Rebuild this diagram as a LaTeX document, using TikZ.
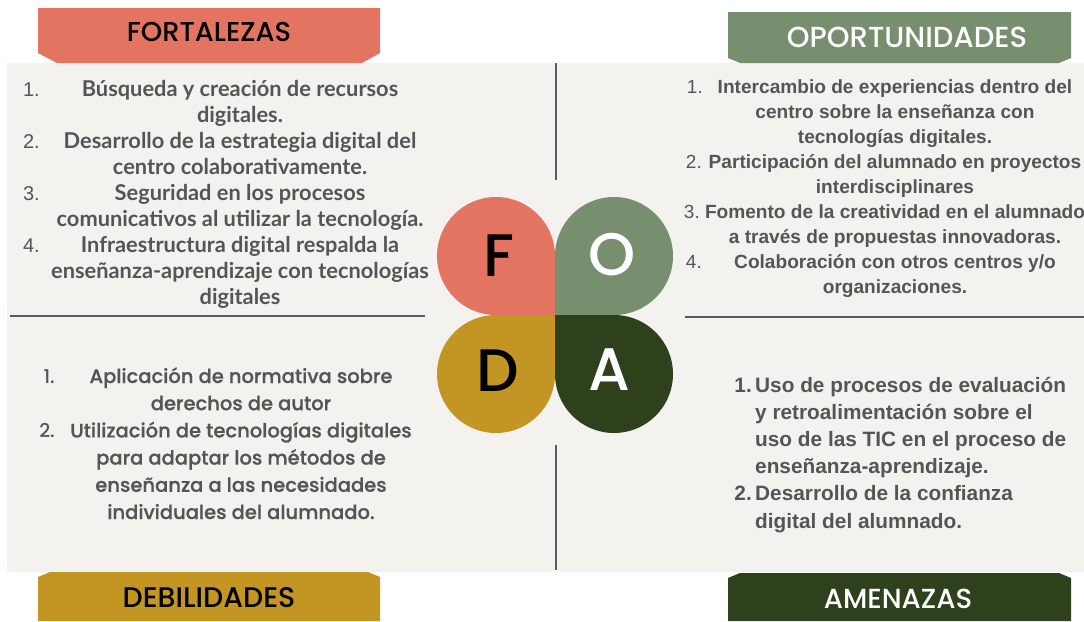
\documentclass[tikz,border=0pt]{standalone}
\usepackage{fontspec}
\setmainfont{Lato}
\newfontfamily\latofont{Lato}
\newfontfamily\libsans{Liberation Sans}
\newfontfamily\popmed{Poppins Medium}
\newfontfamily\popbl{Poppins Medium}[FakeBold=0.6]
\definecolor{fcol}{HTML}{E27461}
\definecolor{ocol}{HTML}{778F6E}
\definecolor{dcol}{HTML}{C39522}
\definecolor{acol}{HTML}{2F401D}
\definecolor{panel}{HTML}{F3F2EF}
\definecolor{txt}{HTML}{555555}
\definecolor{rulecol}{HTML}{5A5A5A}
\tikzset{
  hdr/.style={inner sep=0pt, font=\popmed\fontsize{28}{28}\selectfont},
  letter/.style={inner sep=0pt, font=\popmed\fontsize{60}{60}\selectfont},
  tl/.style={anchor=base, inner sep=0pt, text=txt, font=\latofont\bfseries\fontsize{21.8}{21.8}\selectfont},
  tlnum/.style={anchor=base east, inner sep=0pt, text=txt, font=\libsans\fontsize{20}{20}\selectfont},
  tr/.style={anchor=base, inner sep=0pt, text=txt, font=\libsans\bfseries\fontsize{19.1}{19.1}\selectfont},
  trnum/.style={anchor=base east, inner sep=0pt, text=txt, font=\libsans\fontsize{19}{19}\selectfont},
  bl/.style={anchor=base, inner sep=0pt, text=txt, font=\popbl\fontsize{19.5}{19.5}\selectfont},
  blnum/.style={anchor=base east, inner sep=0pt, text=txt, font=\popmed\fontsize{19}{19}\selectfont},
  br/.style={anchor=base west, inner sep=0pt, text=txt, font=\libsans\bfseries\fontsize{20.8}{20.8}\selectfont},
  brnum/.style={anchor=base east, inner sep=0pt, text=txt, font=\libsans\bfseries\fontsize{20.8}{20.8}\selectfont},
  sep/.style={draw=rulecol, line width=2pt},
}
\begin{document}
\begin{tikzpicture}[x=1pt,y=-1pt]
\useasboundingbox[fill=white] (0,0) rectangle (1084,621);
% panel
\fill[panel] (7,63) rectangle (1084,572);
% headers
\fill[fcol] (38,8) -- (380,8) -- (380,53) -- (362,63) -- (57,63) -- (38,53) -- cycle;
\fill[ocol] (728,12) -- (1071,12) -- (1071,58) -- (1059,63) -- (740,63) -- (728,58) -- cycle;
\fill[dcol] (38,577) -- (50,572) -- (368,572) -- (380,577) -- (380,621) -- (38,621) -- cycle;
\fill[acol] (728,578) -- (740,573) -- (1059,573) -- (1071,578) -- (1071,621) -- (728,621) -- cycle;
\node[hdr, text=black, font=\popmed\fontsize{27.3}{27.3}\selectfont] (hF) at (209,32) {FORTALEZAS};
\node[hdr, text=white, font=\popmed\fontsize{29}{29}\selectfont] (hO) at (907,37) {OPORTUNIDADES};
\node[hdr, text=black, font=\popmed\fontsize{28.4}{28.4}\selectfont] (hD) at (209,598) {DEBILIDADES};
\node[hdr, text=white, font=\popmed\fontsize{27.6}{27.6}\selectfont] (hA) at (898,599) {AMENAZAS};
% separators
\draw[sep] (556,63) -- (556,180);
\draw[sep] (556,445) -- (556,570);
\draw[sep] (10,316) -- (425,316);
\draw[sep] (685,317) -- (1084,317);
% clover petals
\fill[fcol] (555,315) -- (496,315) arc[start angle=90, end angle=360, radius=59] -- cycle;
\fill[ocol] (555,315) -- (614,315) arc[start angle=90, end angle=-180, radius=59] -- cycle;
\fill[dcol] (555,315) -- (496,315) arc[start angle=-90, end angle=-360, radius=59] -- cycle;
\fill[acol] (555,315) -- (614,315) arc[start angle=-90, end angle=180, radius=59] -- cycle;
\node[letter, text=black] (lF) at (499,256) {F};
\node[letter, text=white] (lO) at (612,255) {O};
\node[letter, text=black] (lD) at (498,371) {D};
\node[letter, text=white] (lA) at (609,370) {A};
% top-left
\foreach \s [count=\i] in {{Búsqueda y creación de recursos},{digitales.},{Desarrollo de la estrategia digital del},{centro colaborativamente.},{Seguridad en los procesos},{comunicativos al utilizar la tecnología.},{Infraestructura digital respalda la},{enseñanza-aprendizaje con tecnologías},{digitales}}
  \node[tl] (tl\i) at (240,{96.5+25.95*(\i-1)}) {\s};
\node[tlnum] (tn1) at (40,96.5) {1.};
\node[tlnum] (tn2) at (40,148.4) {2.};
\node[tlnum] (tn3) at (40,200.3) {3.};
\node[tlnum] (tn4) at (40,252.2) {4.};
% top-right
\foreach \s [count=\i] in {{Intercambio de experiencias dentro del},{centro sobre la enseñanza con},{tecnologías digitales.},{Participación del alumnado en proyectos},{interdisciplinares},{Fomento de la creatividad en el alumnado},{a través de propuestas innovadoras.},{Colaboración con otros centros y/o},{organizaciones.}}
  \node[tr] (tr\i) at (895,{93+25*(\i-1)}) {\s};
\node[trnum] (rn1) at (703,93) {1.};
\node[trnum] (rn2) at (702,168) {2.};
\node[trnum] (rn3) at (700,218) {3.};
\node[trnum] (rn4) at (702,268) {4.};
% bottom-left
\foreach \s [count=\i] in {{Aplicación de normativa sobre},{derechos de autor},{Utilización de tecnologías digitales},{para adaptar los métodos de},{enseñanza a las necesidades},{individuales del alumnado.}}
  \node[bl] (bl\i) at (241,{383+27.2*(\i-1)}) {\s};
\node[blnum] (dn1) at (55,383) {1.};
\node[blnum] (dn2) at (55,437.4) {2.};
% bottom-right
\foreach \s [count=\i] in {{Uso de procesos de evaluación},{y retroalimentación sobre el},{uso de las TIC en el proceso de},{enseñanza-aprendizaje.},{Desarrollo de la confianza},{digital del alumnado.}}
  \node[br] (br\i) at (755,{392.7+27.06*(\i-1)}) {\s};
\node[brnum] (an1) at (752,392.7) {1.};
\node[brnum] (an2) at (752,500.9) {2.};
\end{tikzpicture}
\end{document}
